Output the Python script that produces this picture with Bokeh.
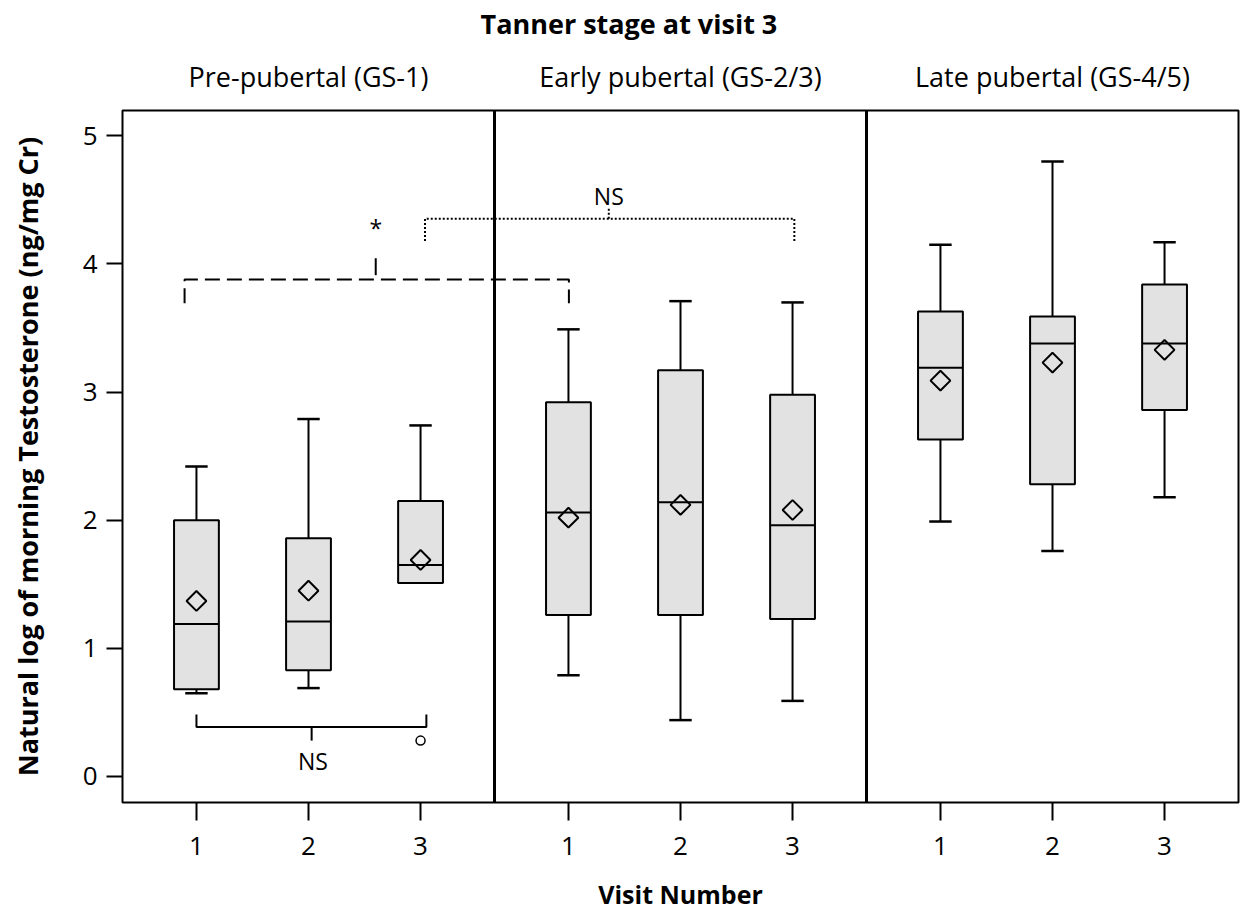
from bokeh.plotting import figure
from bokeh.models import FixedTicker, Span, Range1d, ColumnDataSource, LinearAxis, Title
from bokeh.core.properties import value
from bokeh.embed import file_html
from bokeh.resources import INLINE

# ---------------- data ----------------
panel_titles = ["Pre-pubertal (GS-1)", "Early pubertal (GS-2/3)", "Late pubertal (GS-4/5)"]
visit_labels = ["1", "2", "3"]
panel_idx = [0, 0, 0, 1, 1, 1, 2, 2, 2]
visit_num = [1, 2, 3, 1, 2, 3, 1, 2, 3]
whisker_low = [0.65, 0.69, 1.51, 0.79, 0.44, 0.59, 1.99, 1.76, 2.18]
q1 = [0.68, 0.83, 1.51, 1.26, 1.26, 1.23, 2.63, 2.28, 2.86]
median = [1.19, 1.21, 1.65, 2.06, 2.14, 1.96, 3.19, 3.38, 3.38]
q3 = [2.00, 1.86, 2.15, 2.92, 3.17, 2.98, 3.63, 3.59, 3.84]
whisker_high = [2.42, 2.79, 2.74, 3.49, 3.71, 3.70, 4.15, 4.80, 4.17]
mean = [1.37, 1.45, 1.69, 2.02, 2.12, 2.08, 3.09, 3.23, 3.33]
outlier_panel = [0]
outlier_visit = [3]
outlier_value = [0.28]

# significance annotations (data coordinates)
dashed_x = [0.554, 0.554, 3.984, 3.984]
dashed_y = [3.694, 3.879, 3.879, 3.694]
dashed_tick_x = [2.26, 2.26]
dashed_tick_y = [3.913, 4.045]
star_pos = (2.26, 4.28)
dotted_x = [2.70, 2.70, 5.996, 5.996]
dotted_y = [4.18, 4.354, 4.354, 4.18]
dotted_tick_x = [4.34, 4.34]
dotted_tick_y = [4.354, 4.443]
ns_top_pos = (4.34, 4.528)
solid_x = [0.66, 0.66, 2.712, 2.712]
solid_y = [0.483, 0.387, 0.387, 0.483]
solid_tick_x = [1.688, 1.688]
solid_tick_y = [0.387, 0.28]
ns_bottom_pos = (1.70, 0.121)

# ---------------- layout helpers ----------------
PANEL_W = 3.32
def xpos(panel, visit):
    return round(panel * PANEL_W + visit - 0.34, 2)

FONT = "Open Sans"
BOX_W = 0.40
CAP_HALF = 0.10

xs = [xpos(p_, v) for p_, v in zip(panel_idx, visit_num)]

p = figure(width=1240, height=913, output_backend="svg", toolbar_location=None,
           x_range=Range1d(0, 3 * PANEL_W), y_range=Range1d(-0.203, 5.198),
           min_border_left=122, min_border_right=2, min_border_top=110, min_border_bottom=110)
p.xgrid.visible = False
p.ygrid.visible = False
p.outline_line_color = "black"
p.outline_line_width = 2
p.background_fill_color = "white"

# boxes
src = ColumnDataSource(dict(x=xs, q1=q1, q3=q3, med=median, mean=mean,
                            lo=whisker_low, hi=whisker_high,
                            xl=[x - BOX_W / 2 for x in xs], xr=[x + BOX_W / 2 for x in xs],
                            cl=[x - CAP_HALF for x in xs], cr=[x + CAP_HALF for x in xs]))

p.segment(x0="x", y0="q3", x1="x", y1="hi", source=src, line_color="black", line_width=2)
p.segment(x0="cl", y0="hi", x1="cr", y1="hi", source=src, line_color="black", line_width=2.5)
low_idx = [i for i in range(len(xs)) if whisker_low[i] < q1[i] - 1e-9]
lsrc = ColumnDataSource(dict(x=[xs[i] for i in low_idx], q1=[q1[i] for i in low_idx],
                             lo=[whisker_low[i] for i in low_idx],
                             cl=[xs[i] - CAP_HALF for i in low_idx],
                             cr=[xs[i] + CAP_HALF for i in low_idx]))
p.segment(x0="x", y0="lo", x1="x", y1="q1", source=lsrc, line_color="black", line_width=2)
p.segment(x0="cl", y0="lo", x1="cr", y1="lo", source=lsrc, line_color="black", line_width=2.5)

p.vbar(x="x", width=BOX_W, bottom="q1", top="q3", source=src,
       fill_color="#e2e2e2", line_color="black", line_width=2)
p.segment(x0="xl", y0="med", x1="xr", y1="med", source=src, line_color="black", line_width=2)
p.scatter(x="x", y="mean", source=src, marker="square", size=14, angle=0.785398,
          fill_alpha=0, line_color="black", line_width=2)

p.scatter(x=[xpos(a, b) for a, b in zip(outlier_panel, outlier_visit)], y=outlier_value,
          marker="circle", size=9, fill_color="white", line_color="black", line_width=1.5)

for k in (1, 2):
    p.add_layout(Span(location=k * PANEL_W, dimension="height", line_color="black", line_width=3))

p.line(dashed_x, dashed_y, line_color="black", line_width=2, line_dash="15 7")
p.line(dashed_tick_x, dashed_tick_y, line_color="black", line_width=2)
p.line(dotted_x, dotted_y, line_color="black", line_width=2, line_dash="2 2")
p.line(dotted_tick_x, dotted_tick_y, line_color="black", line_width=2, line_dash="2 2")
p.line(solid_x, solid_y, line_color="black", line_width=2)
p.line(solid_tick_x, solid_tick_y, line_color="black", line_width=2)

p.text(x=[star_pos[0], ns_top_pos[0], ns_bottom_pos[0]],
       y=[star_pos[1], ns_top_pos[1], ns_bottom_pos[1]],
       text=["*", "NS", "NS"], text_font=value(FONT), text_font_size="23px",
       text_align="center", text_baseline="middle", text_color="black")

# axes
tick_pos = [xpos(k, v) for k in range(3) for v in (1, 2, 3)]
p.xaxis.ticker = FixedTicker(ticks=tick_pos)
p.xaxis.major_label_overrides = {t: visit_labels[i % 3] for i, t in enumerate(tick_pos)}
p.yaxis.ticker = FixedTicker(ticks=[0, 1, 2, 3, 4, 5])
p.xaxis.minor_tick_line_color = None
p.yaxis.minor_tick_line_color = None
for ax in (p.xaxis[0], p.yaxis[0]):
    ax.axis_line_color = None
    ax.major_tick_line_color = "black"
    ax.major_tick_line_width = 2
    ax.major_tick_in = 0
    ax.major_label_text_font = FONT
    ax.major_label_text_font_size = "26px"
    ax.major_label_text_color = "black"
    ax.axis_label_text_font = FONT
    ax.axis_label_text_font_style = "bold"
    ax.axis_label_text_color = "black"
p.xaxis.axis_label_text_font_size = "25px"
p.yaxis.axis_label_text_font_size = "27px"
p.xaxis.major_tick_out = 18
p.yaxis.major_tick_out = 16
p.xaxis.major_label_standoff = 16
p.yaxis.major_label_standoff = 9
p.xaxis.axis_label = "Visit Number"
p.yaxis.axis_label = "Natural log of morning Testosterone (ng/mg Cr)"
p.xaxis.axis_label_standoff = 19
p.yaxis.axis_label_standoff = 34

# panel titles as an axis above the frame
panel_centers = [round((k + 0.5) * PANEL_W, 2) for k in range(3)]
top_ax = LinearAxis(ticker=FixedTicker(ticks=panel_centers),
                    major_label_overrides={c: t for c, t in zip(panel_centers, panel_titles)})
top_ax.axis_line_color = None
top_ax.major_tick_line_color = None
top_ax.minor_tick_line_color = None
top_ax.major_tick_out = 0
top_ax.major_tick_in = 0
top_ax.major_label_standoff = 16
top_ax.major_label_text_font = FONT
top_ax.major_label_text_font_size = "27px"
top_ax.major_label_text_color = "black"
p.add_layout(top_ax, "above")

# thin spacer between the panel titles and the overall title
p.add_layout(Title(text=" ", text_font_size="6px", standoff=3), "above")

# overall title
p.title.text = "Tanner stage at visit 3"
p.title.align = "left"
p.title.offset = 358
p.title.text_font = FONT
p.title.text_font_size = "27px"
p.title.text_font_style = "bold"
p.title.text_color = "black"
p.title.standoff = 4

open("out.html", "w").write(file_html(p, INLINE))
